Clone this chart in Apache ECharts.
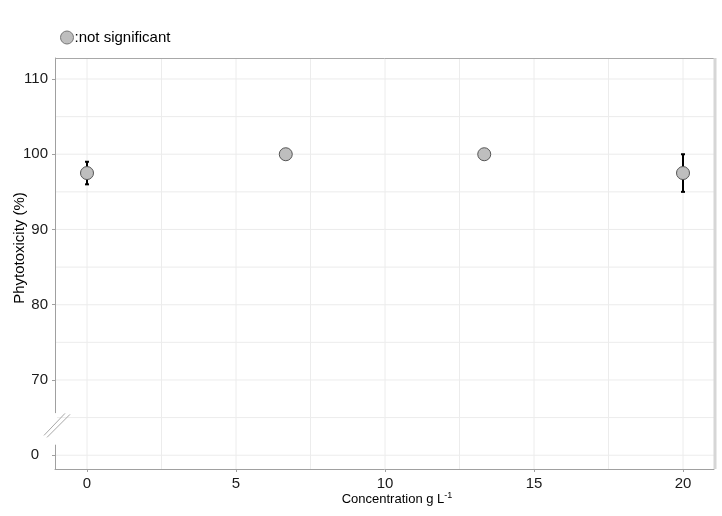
<!DOCTYPE html>
<html><head><meta charset="utf-8">
<script src="https://cdn.jsdelivr.net/npm/echarts@6/dist/echarts.min.js"></script>
<style>html,body{margin:0;padding:0;background:#fff}#c{width:722px;height:516px}</style>
</head><body><div id="c"></div>
<script>
// ---- data ----
const concentrations = [0, 6.67, 13.33, 20];
const phytotoxicity = [97.5, 100, 100, 97.5];
const errLow = [96, 100, 100, 95];
const errHigh = [99, 100, 100, 100];
const xTickValues = [0, 5, 10, 15, 20];
const yTickValues = [0, 70, 80, 90, 100, 110];
const legendLabel = ':not significant';
const xTitle = 'Concentration g L';
const xTitleSup = '-1';
const yTitle = 'Phytotoxicity (%)';

// broken axis: value 0 is drawn at position 60
const BREAK_POS = 60;
const toPos = v => (v === 0 ? BREAK_POS : v);
const fromPos = p => (p === BREAK_POS ? 0 : p);

const X_MIN = -1.074, X_MAX = 21.04;
const Y_MIN = 58.17, Y_MAX = 112.79;

// gridlines (major + minor); kind 0 = vertical, 1 = horizontal, 2 = faint band
const gridX = [0, 2.5, 5, 7.5, 10, 12.5, 15, 17.5, 20];
const gridY = [60, 65, 70, 75, 80, 85, 90, 95, 100, 105, 110];
const gridData = [];
gridX.forEach(v => gridData.push([v, 80, 0]));
gridY.forEach(v => gridData.push([5, v, 1]));
gridData.push([5, 100, 2, 15]);

const FONT = "'Liberation Sans', Arial, sans-serif";

const chart = echarts.init(document.getElementById('c'), null, {renderer: 'canvas'});
chart.setOption({
  backgroundColor: '#ffffff',
  animation: false,
  grid: {left: 55, right: 8, top: 58, bottom: 47, containLabel: false},
  legend: {
    data: [legendLabel], left: 55, top: 25, icon: 'circle',
    itemWidth: 13, itemHeight: 13, itemGap: 4,
    itemStyle: {borderWidth: 1, borderColor: '#777', color: '#bebebe'},
    textStyle: {fontSize: 15, color: '#000', fontFamily: FONT, padding: [0,0,0,-4]}
  },
  xAxis: {
    type: 'value', min: X_MIN, max: X_MAX,
    splitLine: {show: false},
    axisLine: {show: true, onZero: false, lineStyle: {color: '#a0a0a0', width: 1}},
    axisTick: {show: true, length: 3, customValues: xTickValues, lineStyle: {color: '#a0a0a0'}},
    axisLabel: {customValues: xTickValues, fontSize: 15, color: '#1a1a1a', fontFamily: FONT, margin: 7}
  },
  yAxis: {
    type: 'value', min: Y_MIN, max: Y_MAX,
    splitLine: {show: false},
    axisLine: {show: true, onZero: false, lineStyle: {color: '#a0a0a0', width: 1}},
    axisTick: {show: true, length: 3, customValues: yTickValues.map(toPos), lineStyle: {color: '#a0a0a0'}},
    axisLabel: {customValues: yTickValues.map(toPos),
      formatter: v => (v === BREAK_POS ? '{z|' + fromPos(v) + '}' : String(fromPos(v))),
      rich: {z: {fontSize: 15, color: '#1a1a1a', fontFamily: FONT, padding: [0, 9, 0, 0]}},
      fontSize: 15, color: '#1a1a1a', fontFamily: FONT, margin: 7}
  },
  series: [
    {
      type: 'custom', name: 'grid', silent: true, z: 0,
      data: gridData,
      encode: {x: 0, y: 1},
      renderItem: (params, api) => {
        const cs = params.coordSys;
        const kind = api.value(2);
        if (kind === 0) {
          const px = api.coord([api.value(0), Y_MIN])[0];
          return {type: 'line', shape: {x1: px, y1: cs.y, x2: px, y2: cs.y + cs.height}, style: {stroke: '#ececec', lineWidth: 1}};
        }
        if (kind === 1) {
          const py = api.coord([X_MIN, api.value(1)])[1];
          return {type: 'line', shape: {x1: cs.x, y1: py, x2: cs.x + cs.width, y2: py}, style: {stroke: '#ececec', lineWidth: 1}};
        }
        const a = api.coord([api.value(0), api.value(1)]);
        const b = api.coord([api.value(3), api.value(1)]);
        return {type: 'line', shape: {x1: a[0], y1: a[1], x2: b[0], y2: b[1]}, style: {stroke: '#ededed', lineWidth: 3}};
      }
    },
    {
      type: 'custom', name: 'err', silent: true, z: 3,
      data: concentrations.map((c, i) => [c, toPos(errLow[i]), toPos(errHigh[i])]),
      encode: {x: 0, y: [1, 2]},
      renderItem: (params, api) => {
        const lo = api.coord([api.value(0), api.value(1)]);
        const hi = api.coord([api.value(0), api.value(2)]);
        if (Math.abs(lo[1] - hi[1]) < 0.5) return null;
        const w = 2;
        const st = {stroke: '#000', lineWidth: 2};
        return {type: 'group', children: [
          {type: 'line', shape: {x1: lo[0], y1: lo[1], x2: hi[0], y2: hi[1]}, style: st},
          {type: 'line', shape: {x1: lo[0]-w, y1: lo[1], x2: lo[0]+w, y2: lo[1]}, style: st},
          {type: 'line', shape: {x1: hi[0]-w, y1: hi[1], x2: hi[0]+w, y2: hi[1]}, style: st}
        ]};
      }
    },
    {
      type: 'scatter', name: legendLabel, z: 4,
      data: concentrations.map((c, i) => [c, toPos(phytotoxicity[i])]),
      symbol: 'circle', symbolSize: 13,
      itemStyle: {color: '#bebebe', borderColor: '#555', borderWidth: 1, opacity: 1}
    }
  ]
});

// decorations: panel border, axis break, axis titles
const P = (x, y) => chart.convertToPixel({gridIndex: 0}, [x, y]);
const tl = P(X_MIN, Y_MAX), br = P(X_MAX, Y_MIN);
const gapTop = P(X_MIN, 65.6)[1], gapBot = P(X_MIN, 61.4)[1];
const bc = P(X_MIN, 64.1);
const ax = tl[0];
chart.setOption({
  graphic: [
    {type: 'line', silent: true, z: 5, shape: {x1: tl[0], y1: tl[1] + 0.5, x2: br[0], y2: tl[1] + 0.5}, style: {stroke: '#a8a8a8', lineWidth: 1}},
    {type: 'line', silent: true, z: 5, shape: {x1: br[0] + 1, y1: tl[1], x2: br[0] + 1, y2: br[1]}, style: {stroke: '#d6d6d6', lineWidth: 3}},
    {type: 'rect', silent: true, z: 10, shape: {x: ax - 2, y: gapTop, width: 4, height: gapBot - gapTop}, style: {fill: '#fff'}},
    {type: 'line', silent: true, z: 11, shape: {x1: bc[0] - 11, y1: bc[1] + 11, x2: bc[0] + 10, y2: bc[1] - 11}, style: {stroke: '#a8a8a8', lineWidth: 1}},
    {type: 'line', silent: true, z: 11, shape: {x1: bc[0] - 8, y1: bc[1] + 13, x2: bc[0] + 15, y2: bc[1] - 10}, style: {stroke: '#a8a8a8', lineWidth: 1}},
    {type: 'text', silent: true, z: 11, x: 20, y: 248, rotation: Math.PI / 2,
      style: {text: yTitle, fontSize: 15, fontFamily: FONT, fill: '#000', align: 'center', verticalAlign: 'middle'}},
    {type: 'text', silent: true, z: 11, x: 397, y: 499,
      style: {text: xTitle + '{sup|' + xTitleSup + '}', fontSize: 13, fontFamily: FONT, fill: '#000',
        align: 'center', verticalAlign: 'middle',
        rich: {sup: {fontSize: 9, fontFamily: FONT, fill: '#000', verticalAlign: 'top', padding: [0, 0, 6, 0]}}}}
  ]
});
</script>
</body></html>
